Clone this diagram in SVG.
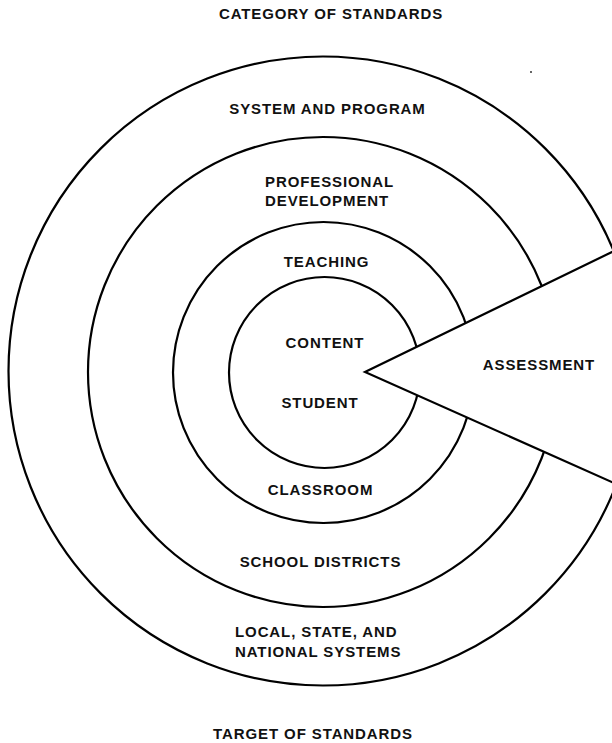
<svg xmlns="http://www.w3.org/2000/svg" width="612" height="743" viewBox="0 0 612 743">
<style>
.ring{fill:none;stroke:#000;stroke-width:2.2}
.lbl{font-family:"Liberation Sans",Arial,sans-serif;font-weight:bold;font-size:15px;letter-spacing:0.9px;fill:#111;text-anchor:middle}
.st{text-anchor:start}
.edge{fill:none;stroke:#000;stroke-width:2.2;stroke-linejoin:miter}
</style>
<rect width="612" height="743" fill="#fff"/>
<g id="title-category"><text class="lbl" x="331" y="19">CATEGORY OF STANDARDS</text></g>
<g id="ring-system"><circle class="ring" cx="323" cy="371" r="314.5"/></g>
<g id="ring-professional"><circle class="ring" cx="323" cy="372" r="235"/></g>
<g id="ring-teaching"><circle class="ring" cx="323.5" cy="372.5" r="150.5"/></g>
<g id="ring-content"><circle class="ring" cx="324.5" cy="372.5" r="95.5"/></g>
<g id="assessment">
<polygon points="365,372 612,252 612,482" fill="#fff"/>
<polyline class="edge" points="614,251 365,372 614,483"/>
<text class="lbl" x="539" y="370">ASSESSMENT</text>
</g>
<g id="labels">
<text class="lbl" x="327.5" y="114">SYSTEM AND PROGRAM</text>
<text class="lbl st" x="265" y="187">PROFESSIONAL</text>
<text class="lbl st" x="265" y="206">DEVELOPMENT</text>
<text class="lbl" x="326.5" y="267">TEACHING</text>
<text class="lbl" x="325" y="348">CONTENT</text>
<text class="lbl" x="320" y="408">STUDENT</text>
<text class="lbl" x="320.5" y="495">CLASSROOM</text>
<text class="lbl" x="320.5" y="567">SCHOOL DISTRICTS</text>
<text class="lbl st" x="235" y="637">LOCAL, STATE, AND</text>
<text class="lbl st" x="235" y="657">NATIONAL SYSTEMS</text>
</g>
<circle cx="531" cy="72" r="1" fill="#333"/>
<g id="title-target"><text class="lbl" x="313" y="739">TARGET OF STANDARDS</text></g>
</svg>
